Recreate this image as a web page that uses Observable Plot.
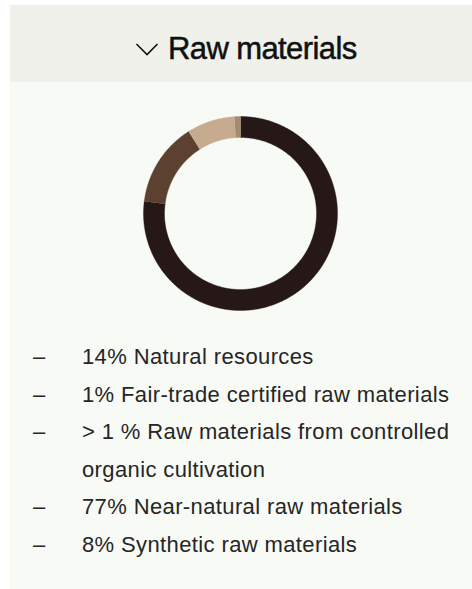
<!DOCTYPE html>
<html>
<head>
<meta charset="utf-8">
<script src="https://cdn.jsdelivr.net/npm/d3@7"></script>
<script src="https://cdn.jsdelivr.net/npm/@observablehq/plot@0.6"></script>
<style>
  html, body { margin: 0; padding: 0; background: #ffffff; }
  body { width: 472px; height: 589px; position: relative; overflow: hidden; font-family: "Liberation Sans", Arial, sans-serif; }
  #card { position: absolute; left: 10px; top: 5px; width: 462px; height: 584px; background: #f8faf5; }
  #header { position: absolute; left: 0; top: 0; width: 100%; height: 77px; background: #eff1ea; }
  #title { position: absolute; left: 158px; top: 26px; font-size: 31px; line-height: 36px; color: #111; letter-spacing: -0.6px; font-weight: 500; -webkit-text-stroke: 0.5px #111; white-space: nowrap; }
  #chev { position: absolute; left: 125px; top: 36px; }
  #chart { position: absolute; left: 120px; top: 103px; }
  #list { position: absolute; left: 0; top: 333px; margin: 0; padding: 0; list-style: none; font-size: 22px; line-height: 37.5px; color: #262626; letter-spacing: 0.38px; }
  #list li { position: relative; padding-left: 72px; width: 385px; }
  #list li::before { content: "–"; position: absolute; left: 23px; }
</style>
</head>
<body>
<div id="card">
  <div id="header">
    <svg id="chev" width="26" height="16" viewBox="0 0 26 16"><polyline points="1.5,3 12,13.5 22.5,3" fill="none" stroke="#111" stroke-width="1.6"/></svg>
    <div id="title"></div>
  </div>
  <div id="chart"></div>
  <ul id="list"></ul>
</div>
<script>
const title = "Raw materials";
// slices in drawing order (clockwise from 12 o'clock)
const sliceNames = ["Near-natural raw materials", "Natural resources", "Synthetic raw materials", "Fair-trade certified raw materials"];
const sliceValues = [77, 14, 8, 1];
const sliceColors = ["#261816", "#5c4030", "#c7ab91", "#a68b71"];
// legend list, in its own order
const listItems = [
  "14% Natural resources",
  "1% Fair-trade certified raw materials",
  "> 1 % Raw materials from controlled organic cultivation",
  "77% Near-natural raw materials",
  "8% Synthetic raw materials"
];

document.getElementById("title").textContent = title;
const ul = document.getElementById("list");
for (const t of listItems) { const li = document.createElement("li"); li.textContent = t; ul.appendChild(li); }

const outerR = 97, innerR = 76;
const arcs = d3.pie().sort(null).startAngle(0).endAngle(2 * Math.PI)(sliceValues);
const poly = [];
arcs.forEach((a, i) => {
  const n = Math.max(4, Math.ceil((a.endAngle - a.startAngle) / 0.01));
  const pts = [];
  for (let k = 0; k <= n; k++) { const t = a.startAngle + (a.endAngle - a.startAngle) * k / n; pts.push([outerR * Math.sin(t), outerR * Math.cos(t)]); }
  for (let k = n; k >= 0; k--) { const t = a.startAngle + (a.endAngle - a.startAngle) * k / n; pts.push([innerR * Math.sin(t), innerR * Math.cos(t)]); }
  for (const [x, y] of pts) poly.push({name: sliceNames[i], x, y});
});

const chart = Plot.plot({
  width: 220, height: 210,
  margin: 0,
  x: {domain: [-110, 110], axis: null},
  y: {domain: [-105, 105], axis: null},
  color: {domain: sliceNames, range: sliceColors},
  style: {background: "transparent", overflow: "visible"},
  marks: [
    Plot.line(poly, {x: "x", y: "y", z: "name", fill: "name", stroke: "name", strokeWidth: 0.4, curve: "linear"})
  ]
});
document.getElementById("chart").appendChild(chart);
</script>
</body>
</html>
